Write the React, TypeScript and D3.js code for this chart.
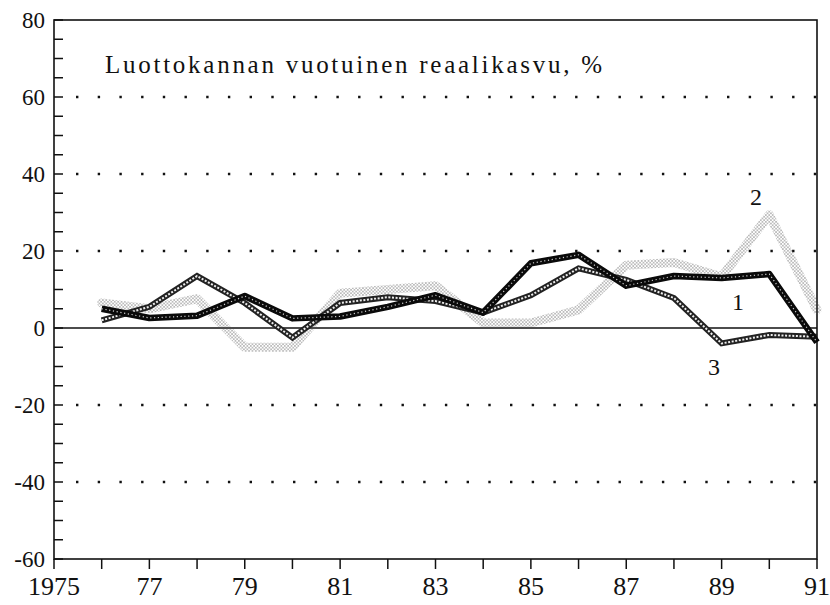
import React from "react";
import * as d3 from "d3";

// years on the x axis (each series starts in 1976)
const years = [1976, 1977, 1978, 1979, 1980, 1981, 1982, 1983, 1984, 1985, 1986, 1987, 1988, 1989, 1990, 1991];
const series1 = [5, 2.6, 3.2, 8.3, 2.5, 3, 5.5, 8.5, 4, 16.8, 19, 11, 13.5, 13, 14, -3.7];
const series2 = [6.5, 5, 7.6, -5, -5, 9, 10, 11, 1.3, 1.3, 4.7, 16.3, 17, 13.3, 29.4, 4.7];
const series3 = [2, 5.5, 13.5, 6.5, -2.5, 6.5, 8, 7, 4, 8.5, 15.5, 12.5, 7.8, -4, -1.8, -2.3];

const yMajor = [80, 60, 40, 20, 0, -20, -40, -60];
const xLabels = [
  { year: 1975, label: "1975" },
  { year: 1977, label: "77" },
  { year: 1979, label: "79" },
  { year: 1981, label: "81" },
  { year: 1983, label: "83" },
  { year: 1985, label: "85" },
  { year: 1987, label: "87" },
  { year: 1989, label: "89" },
  { year: 1991, label: "91" },
];
const title = "Luottokannan vuotuinen reaalikasvu, %";

const W = 830;
const H = 605;
const left = 54;
const right = 817;
const top = 20;
const bottom = 559;

export default function App() {
  const x = d3.scaleLinear().domain([1975, 1991]).range([left, right]);
  const y = d3.scaleLinear().domain([-60, 80]).range([bottom, top]);

  const line = (vals: number[]) =>
    d3
      .line<number>()
      .x((_, i) => x(years[i]))
      .y((d) => y(d))(vals) || "";

  const minor = d3.range(-60, 81, 5);
  const yearTicks = d3.range(1975, 1992, 1);

  return (
    <svg
      width={W}
      height={H}
      style={{ position: "absolute", left: 0, top: 0, background: "#fff", fontFamily: "Liberation Serif, serif" }}
    >
      <defs>
        <pattern id="light" width="3.4" height="3.4" patternUnits="userSpaceOnUse">
          <circle cx="0.85" cy="0.85" r="0.65" fill="#555" />
          <circle cx="2.55" cy="2.55" r="0.65" fill="#555" />
        </pattern>
      </defs>

      {/* frame */}
      <rect x={left} y={top} width={right - left} height={bottom - top} fill="none" stroke="#111" strokeWidth={1.6} />

      {/* minor ticks on left axis */}
      {minor.map((v) => (
        <line key={"m" + v} x1={left} x2={left + 9} y1={y(v)} y2={y(v)} stroke="#111" strokeWidth={1.5} />
      ))}

      {/* dotted grid */}
      {yMajor
        .filter((v) => v !== 80 && v !== -60 && v !== 0)
        .map((v) => (
          <line
            key={"g" + v}
            x1={left + 22}
            x2={right}
            y1={y(v)}
            y2={y(v)}
            stroke="#111"
            strokeWidth={2.4}
            strokeDasharray="2.4 19.3"
          />
        ))}
      <line x1={left} x2={right} y1={y(0)} y2={y(0)} stroke="#111" strokeWidth={1.5} />

      {/* y labels */}
      {yMajor.map((v) => (
        <text key={"yl" + v} x={left - 9} y={y(v) + 8} textAnchor="end" fontSize={23} fill="#111">
          {v}
        </text>
      ))}

      {/* x ticks */}
      {yearTicks.map((yr) => (
        <line key={"xt" + yr} x1={x(yr)} x2={x(yr)} y1={bottom} y2={bottom + 10} stroke="#111" strokeWidth={1.5} />
      ))}
      {xLabels.map((d) => (
        <text key={"xl" + d.year} x={x(d.year)} y={595} textAnchor="middle" fontSize={26} fill="#111">
          {d.label}
        </text>
      ))}

      {/* title */}
      <text x={105} y={73} fontSize={25} textLength={497} lengthAdjust="spacing" fill="#111">
        {title}
      </text>

      {/* series 2: light halftone */}
      <path d={line(series2)} fill="none" stroke="url(#light)" strokeWidth={9} strokeLinejoin="round" strokeLinecap="round" />

      {/* series 3: hatched double line */}
      <path d={line(series3)} fill="none" stroke="#222" strokeWidth={6} />
      <path d={line(series3)} fill="none" stroke="#eee" strokeWidth={2} strokeDasharray="2 1.6" />

      {/* series 1: dark */}
      <path d={line(series1)} fill="none" stroke="#0a0a0a" strokeWidth={6.5} strokeLinejoin="round" />
      <path d={line(series1)} fill="none" stroke="#fff" strokeWidth={1.2} strokeDasharray="1.2 2.6" strokeOpacity={0.8} />

      {/* series labels */}
      <text x={756} y={205} textAnchor="middle" fontSize={24} fill="#111">2</text>
      <text x={738} y={310} textAnchor="middle" fontSize={24} fill="#111">1</text>
      <text x={714} y={375} textAnchor="middle" fontSize={24} fill="#111">3</text>
    </svg>
  );
}
